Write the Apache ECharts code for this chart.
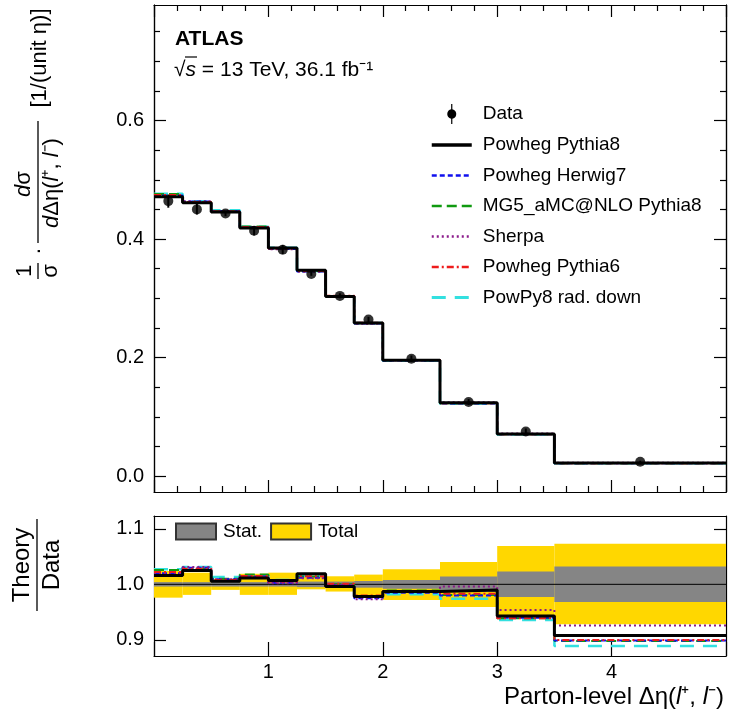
<!DOCTYPE html>
<html>
<head>
<meta charset="utf-8">
<script src="https://cdn.jsdelivr.net/npm/echarts@6/dist/echarts.min.js"></script>
<style>
html, body { margin: 0; padding: 0; background: #ffffff; }
#chart { width: 730px; height: 719px; }
</style>
</head>
<body>
<div id="chart"></div>
<script>
// Bin edges of the parton-level Δη(l+, l−) distribution
const binEdges = [0, 0.25, 0.5, 0.75, 1.0, 1.25, 1.5, 1.75, 2.0, 2.5, 3.0, 3.5, 5.0];

// Measured normalised cross-section per bin
const dataValues = [0.464, 0.450, 0.443, 0.414, 0.382, 0.341, 0.304, 0.264, 0.198, 0.125, 0.075, 0.024];

// Relative uncertainties of the measurement
const statUnc   = [0.004, 0.004, 0.004, 0.004, 0.004, 0.005, 0.005, 0.006, 0.008, 0.014, 0.023, 0.032];
const totalUp   = [0.024, 0.021, 0.010, 0.019, 0.021, 0.015, 0.0145, 0.0175, 0.027, 0.040, 0.069, 0.073];
const totalDown = [0.024, 0.019, 0.010, 0.019, 0.019, 0.009, 0.013, 0.022, 0.028, 0.041, 0.055, 0.072];

// Theory / Data per bin for each generator
const ratioPowhegPythia8 = [1.016, 1.025, 1.0055, 1.0115, 1.007, 1.019, 0.996, 0.978, 0.987, 0.990, 0.943, 0.908];
const ratioPowhegHerwig7 = [1.020, 1.030, 1.009, 1.014, 1.003, 1.012, 0.999, 0.975, 0.985, 0.980, 0.940, 0.899];
const ratioMG5Pythia8    = [1.026, 1.028, 1.010, 1.0175, 1.006, 1.014, 1.000, 0.977, 0.989, 0.981, 0.939, 0.898];
const ratioSherpa        = [1.019, 1.031, 1.009, 1.013, 1.002, 1.011, 0.999, 0.973, 0.986, 0.996, 0.954, 0.926];
const ratioPowhegPythia6 = [1.022, 1.028, 1.008, 1.015, 1.005, 1.0145, 1.001, 0.980, 0.988, 0.983, 0.939, 0.900];
const ratioRadDown       = [1.027, 1.031, 1.013, 1.016, 1.008, 1.015, 0.997, 0.978, 0.982, 0.974, 0.936, 0.889];

// Axis tick values
const yTicksMain  = [0, 0.2, 0.4, 0.6];
const yMinorMain  = [0.05, 0.1, 0.15, 0.25, 0.3, 0.35, 0.45, 0.5, 0.55, 0.65, 0.7, 0.75];
const yTicksRatio = [0.9, 1.0, 1.1];

const FONT = "'Liberation Sans', Arial, Helvetica, sans-serif";

const generators = [
  { name: 'Powheg Pythia8',        ratio: ratioPowhegPythia8, color: '#000000', width: 3,   type: 'solid', z: 10 },
  { name: 'Powheg Herwig7',        ratio: ratioPowhegHerwig7, color: '#1010ee', width: 2,   type: [5, 3],  z: 6 },
  { name: 'MG5_aMC@NLO Pythia8',   ratio: ratioMG5Pythia8,    color: '#109a10', width: 2,   type: [10, 5], z: 5 },
  { name: 'Sherpa',                ratio: ratioSherpa,        color: '#8a1a8a', width: 2,   type: [2, 3],  z: 7 },
  { name: 'Powheg Pythia6',        ratio: ratioPowhegPythia6, color: '#ee1c1c', width: 2,   type: [7, 3, 2, 3], z: 8 },
  { name: 'PowPy8 rad. down',      ratio: ratioRadDown,       color: '#33e0e0', width: 2.5, type: [14, 9], z: 4 }
];

const binCentres = dataValues.map((_, i) => (binEdges[i] + binEdges[i + 1]) / 2);

// Step outline for a histogram: one point per lower edge plus the last upper edge
function stepPoints(values) {
  const pts = values.map((v, i) => [binEdges[i], v]);
  pts.push([binEdges[binEdges.length - 1], values[values.length - 1]]);
  return pts;
}

function bandRender(color) {
  return function (params, api) {
    const p0 = api.coord([api.value(0), api.value(3)]);
    const p1 = api.coord([api.value(1), api.value(2)]);
    return {
      type: 'rect',
      shape: { x: p0[0], y: p0[1], width: p1[0] - p0[0], height: p1[1] - p0[1] },
      style: { fill: color, stroke: null }
    };
  };
}

const series = [];

// Upper panel: generator predictions
generators.forEach(g => {
  series.push({
    name: g.name, type: 'line', xAxisIndex: 0, yAxisIndex: 0,
    step: 'end', symbol: 'none', z: g.z,
    lineStyle: { color: g.color, width: g.width, type: g.type },
    itemStyle: { color: g.color },
    data: stepPoints(dataValues.map((d, i) => d * g.ratio[i]))
  });
});

// Upper panel: data error bars and markers
series.push({
  name: 'Data', type: 'custom', xAxisIndex: 0, yAxisIndex: 0, z: 20,
  encode: { x: 0, y: [1, 2] },
  itemStyle: { color: '#000' },
  data: dataValues.map((d, i) => [binCentres[i], d * (1 - totalDown[i]), d * (1 + totalUp[i])]),
  renderItem: function (params, api) {
    const a = api.coord([api.value(0), api.value(1)]);
    const b = api.coord([api.value(0), api.value(2)]);
    return { type: 'line', shape: { x1: a[0], y1: a[1], x2: b[0], y2: b[1] }, style: { stroke: '#000', lineWidth: 2 } };
  }
});
series.push({
  name: 'Data', type: 'scatter', xAxisIndex: 0, yAxisIndex: 0, z: 21,
  symbol: 'circle', symbolSize: 10,
  itemStyle: { color: '#000' },
  data: dataValues.map((d, i) => [binCentres[i], d])
});

// Lower panel: uncertainty bands
series.push({
  name: 'Total', type: 'custom', xAxisIndex: 2, yAxisIndex: 4, z: 1, clip: true,
  encode: { x: [0, 1], y: [2, 3] },
  itemStyle: { color: '#ffd700', borderColor: '#333', borderWidth: 1 },
  renderItem: bandRender('#ffd700'),
  data: dataValues.map((_, i) => [binEdges[i], binEdges[i + 1], 1 - totalDown[i], 1 + totalUp[i]])
});
series.push({
  name: 'Stat.', type: 'custom', xAxisIndex: 2, yAxisIndex: 4, z: 2, clip: true,
  encode: { x: [0, 1], y: [2, 3] },
  itemStyle: { color: '#858585', borderColor: '#333', borderWidth: 1 },
  renderItem: bandRender('#858585'),
  data: dataValues.map((_, i) => [binEdges[i], binEdges[i + 1], 1 - statUnc[i], 1 + statUnc[i]])
});
series.push({
  name: 'unity', type: 'line', xAxisIndex: 2, yAxisIndex: 4, z: 3,
  symbol: 'none', silent: true,
  lineStyle: { color: '#000', width: 1 },
  data: [[0, 1], [5, 1]]
});

// Lower panel: theory / data ratios
generators.forEach(g => {
  series.push({
    name: g.name, type: 'line', xAxisIndex: 2, yAxisIndex: 4,
    step: 'end', symbol: 'none', z: g.z,
    lineStyle: { color: g.color, width: g.width, type: g.type },
    itemStyle: { color: g.color },
    data: stepPoints(g.ratio)
  });
});

const tickFont = { color: '#000', fontFamily: FONT, fontSize: 20 };

function xAxisDef(grid, pos, opts) {
  return Object.assign({
    type: 'value', gridIndex: grid, position: pos, min: 0, max: 5, interval: 1,
    axisLine: { show: true, onZero: false, lineStyle: { color: '#000', width: 1.2 } },
    axisTick: { show: true, inside: true, length: 12, lineStyle: { color: '#000', width: 1.2 } },
    minorTick: { show: true, splitNumber: 5, length: 6, lineStyle: { color: '#000', width: 1.2 } },
    axisLabel: { show: false },
    splitLine: { show: false }
  }, opts || {});
}

function yAxisDef(grid, pos, min, max, ticks, len, labels) {
  return {
    type: 'value', gridIndex: grid, position: pos, min: min, max: max,
    axisLine: { show: true, onZero: false, lineStyle: { color: '#000', width: 1.2 } },
    axisTick: { show: true, inside: true, length: len, customValues: ticks, lineStyle: { color: '#000', width: 1.2 } },
    axisLabel: labels ? Object.assign({ show: true, margin: 10, customValues: ticks, formatter: v => v.toFixed(1) }, tickFont) : { show: false },
    splitLine: { show: false },
    minorTick: { show: false }
  };
}

const main = [-0.027, 0.795];
const rat = [0.871, 1.123];

const italic = { fontStyle: 'italic', fontFamily: FONT, fontSize: 22 };

// Legend entries for the generators, with a heavier line sample
const legendLines = generators.map(g => ({ name: g.name, lineStyle: { width: g.width + 0.5 } }));

const option = {
  animation: false,
  backgroundColor: '#ffffff',
  grid: [
    { left: 154, top: 5, width: 572, height: 487, show: false },
    { left: 154, top: 516, width: 572, height: 140, show: false }
  ],
  xAxis: [
    xAxisDef(0, 'bottom'),
    xAxisDef(0, 'top'),
    xAxisDef(1, 'bottom', {
      axisTick: { show: true, inside: true, length: 14, lineStyle: { color: '#000', width: 1.2 } },
      minorTick: { show: false },
      axisLabel: Object.assign({ show: true, margin: 6, formatter: v => (v > 0 && v < 5) ? String(v) : '' }, tickFont)
    }),
    xAxisDef(1, 'top', { axisTick: { show: false }, minorTick: { show: false } })
  ],
  yAxis: [
    yAxisDef(0, 'left', main[0], main[1], yTicksMain, 12, true),
    yAxisDef(0, 'left', main[0], main[1], yMinorMain, 6, false),
    yAxisDef(0, 'right', main[0], main[1], yTicksMain, 12, false),
    yAxisDef(0, 'right', main[0], main[1], yMinorMain, 6, false),
    yAxisDef(1, 'left', rat[0], rat[1], yTicksRatio, 12, true),
    yAxisDef(1, 'right', rat[0], rat[1], yTicksRatio, 12, false)
  ],
  legend: [
    {
      orient: 'vertical', left: 425, top: 99,
      itemWidth: 40, itemHeight: 20, itemGap: 11.5,
      selectedMode: false,
      itemStyle: { opacity: 0 },
      textStyle: { color: '#000', fontFamily: FONT, fontSize: 19, padding: [0, 0, 0, 6] },
      data: [
        {
          name: 'Data',
          icon: 'path://M4.4,0 L5.6,0 L5.6,5.2 A4.9,4.9 0 0 1 5.6,14.8 L5.6,20 L4.4,20 L4.4,14.8 A4.9,4.9 0 0 1 4.4,5.2 Z',
          itemStyle: { opacity: 1, color: '#000' }
        }
      ].concat(legendLines)
    },
    {
      orient: 'horizontal', left: 170, top: 517,
      itemWidth: 40, itemHeight: 16, itemGap: 8,
      selectedMode: false,
      textStyle: { color: '#000', fontFamily: FONT, fontSize: 19, padding: [0, 0, 0, 2] },
      data: [
        { name: 'Stat.', icon: 'rect' },
        { name: 'Total', icon: 'rect' }
      ]
    }
  ],
  graphic: [
    { type: 'text', left: 175, top: 29, style: { text: 'ATLAS', font: "bold 21px " + FONT, fill: '#000' } },
    {
      type: 'text', x: 174, y: 70,
      style: {
        text: '√{i|s} = 13 TeV, 36.1 fb⁻¹',
        fontFamily: FONT, fontSize: 21, fill: '#000', verticalAlign: 'middle',
        rich: { i: { fontStyle: 'italic', fontFamily: FONT, fontSize: 21 } }
      }
    },
    { type: 'line', shape: { x1: 185, y1: 57, x2: 197, y2: 57 }, style: { stroke: '#000', lineWidth: 1.2 } },
    {
      type: 'text', x: 724, y: 697,
      style: {
        text: 'Parton-level Δη({i|l}⁺, {i|l}⁻)',
        fontFamily: FONT, fontSize: 24, fill: '#000', align: 'right', verticalAlign: 'middle',
        rich: { i: { fontStyle: 'italic', fontFamily: FONT, fontSize: 24 } }
      }
    },
    // Vertical title of the upper panel, read bottom to top
    {
      type: 'group', x: 38, y: 282, rotation: Math.PI / 2,
      children: [
        { type: 'text', x: 11, y: -13, style: { text: '1', fontFamily: FONT, fontSize: 22, fill: '#000', align: 'center', verticalAlign: 'middle' } },
        { type: 'line', shape: { x1: 3, y1: 0, x2: 19, y2: 0 }, style: { stroke: '#000', lineWidth: 1.3 } },
        { type: 'text', x: 11, y: 13, style: { text: 'σ', fontFamily: FONT, fontSize: 22, fill: '#000', align: 'center', verticalAlign: 'middle' } },
        { type: 'text', x: 31, y: 1, style: { text: '·', fontFamily: FONT, fontSize: 22, fill: '#000', align: 'center', verticalAlign: 'middle' } },
        {
          type: 'text', x: 98, y: -14,
          style: {
            text: '{i|d}σ', fontFamily: FONT, fontSize: 22, fill: '#000', align: 'center', verticalAlign: 'middle',
            rich: { i: italic }
          }
        },
        { type: 'line', shape: { x1: 39, y1: 0, x2: 161, y2: 0 }, style: { stroke: '#000', lineWidth: 1.3 } },
        {
          type: 'text', x: 99, y: 14,
          style: {
            text: '{i|d}Δη({i|l}⁺, {i|l}⁻)', fontFamily: FONT, fontSize: 22, fill: '#000', align: 'center', verticalAlign: 'middle',
            rich: { i: italic }
          }
        },
        { type: 'text', x: 224, y: 2, style: { text: '[1/(unit η)]', fontFamily: FONT, fontSize: 22, fill: '#000', align: 'center', verticalAlign: 'middle' } }
      ]
    },
    // Vertical title of the ratio panel
    {
      type: 'group', x: 37, y: 565, rotation: Math.PI / 2,
      children: [
        { type: 'text', x: 0, y: -15, style: { text: 'Theory', fontFamily: FONT, fontSize: 24, fill: '#000', align: 'center', verticalAlign: 'middle' } },
        { type: 'line', shape: { x1: -46, y1: 0, x2: 46, y2: 0 }, style: { stroke: '#000', lineWidth: 1.3 } },
        { type: 'text', x: 0, y: 15, style: { text: 'Data', fontFamily: FONT, fontSize: 24, fill: '#000', align: 'center', verticalAlign: 'middle' } }
      ]
    }
  ],
  series: series
};

const chart = echarts.init(document.getElementById('chart'), null, { renderer: 'canvas' });
chart.setOption(option);
</script>
</body>
</html>
